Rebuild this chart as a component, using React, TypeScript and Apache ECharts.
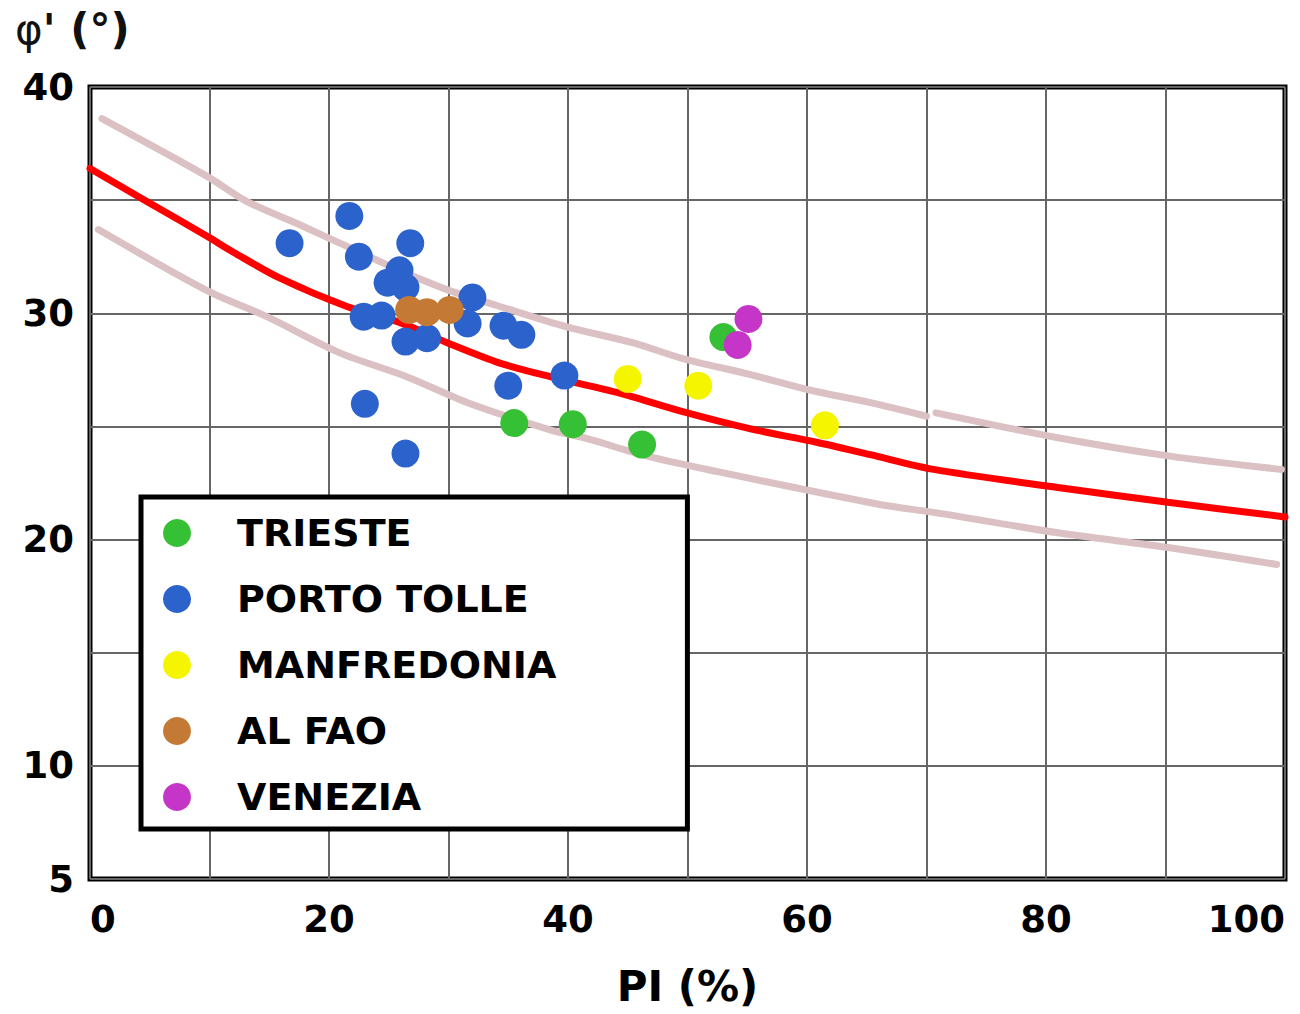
import React, { useEffect, useRef } from 'react';
import * as echarts from 'echarts';

// ---- data ----
const siteNames = ['TRIESTE', 'PORTO TOLLE', 'MANFREDONIA', 'AL FAO', 'VENEZIA'];
const siteColors = ['#35c035', '#2b62cc', '#f5f500', '#c47a35', '#c435c8'];

const triestePoints = [
  [35.5, 25.15], [40.4, 25.1], [46.2, 24.2], [53.0, 28.95],
];
const portoTollePoints = [
  [21.7, 34.3], [16.7, 33.1], [26.8, 33.1], [22.5, 32.5], [25.9, 31.9],
  [24.9, 31.35], [26.4, 31.15], [32.0, 30.7], [22.9, 29.85], [24.4, 29.9],
  [31.6, 29.55], [34.6, 29.45], [36.1, 29.05], [26.4, 28.75], [28.2, 28.9],
  [35.0, 26.8], [23.0, 26.0], [26.4, 23.8], [39.7, 27.25],
];
const manfredoniaPoints = [
  [45.0, 27.1], [50.9, 26.8], [61.5, 25.05],
];
const alFaoPoints = [
  [26.7, 30.15], [28.2, 30.05], [30.1, 30.15],
];
const veneziaPoints = [
  [55.1, 29.75], [54.2, 28.6],
];

const fitCurve = [
  [0, 36.4], [4.9, 34.9], [9.8, 33.4], [12.0, 32.7], [15.9, 31.55],
  [21.5, 30.3], [25.9, 29.6], [29.9, 28.7], [34.3, 27.8],
  [38.5, 27.2], [44.1, 26.5], [49.6, 25.65], [55.2, 24.9], [60.8, 24.3],
  [65.3, 23.75], [70.6, 23.1], [81.0, 22.3], [90.2, 21.65], [100, 21.0],
];
const upperBoundLeft = [
  [1.0, 38.6], [9.8, 36.05], [13.1, 34.95], [17.6, 33.9], [20.9, 33.1],
  [25.9, 31.9], [30.1, 31.0], [34.3, 30.3], [39.9, 29.4], [45.4, 28.7],
  [49.6, 28.0], [55.2, 27.3], [60.3, 26.6], [65.3, 26.05], [70.0, 25.45],
];
const upperBoundRight = [
  [70.8, 25.6], [81.0, 24.5], [90.2, 23.7], [99.7, 23.1],
];
const lowerBound = [
  [0.7, 33.7], [9.8, 31.0], [14.8, 29.85], [20.9, 28.25], [26.5, 27.2],
  [31.6, 26.05], [38.5, 24.85], [41.3, 24.5], [46.9, 23.65], [52.5, 23.0],
  [66.1, 21.55], [70.6, 21.2], [81.0, 20.3], [90.2, 19.65], [99.3, 18.9],
];

const yLabelValues = [5, 10, 20, 30, 40];
const xLabelValues = [0, 20, 40, 60, 80, 100];

const sitePoints = [triestePoints, portoTollePoints, manfredoniaPoints, alFaoPoints, veneziaPoints];

const FONT = 'DejaVu Sans';

function buildOption() {
  const scatterSeries = siteNames.map((name, i) => ({
    name,
    type: 'scatter',
    data: sitePoints[i],
    symbol: 'circle',
    symbolSize: 28,
    itemStyle: { color: siteColors[i], opacity: 1 },
    z: 5 + i,
  }));
  const lineStyleBase = { width: 7, cap: 'round' as const };
  return {
    animation: false,
    backgroundColor: '#ffffff',
    title: {
      text: '{a|φ}{b|\' (°)}',
      left: 10,
      top: 3,
      textStyle: {
        rich: {
          a: { fontFamily: FONT, fontSize: 42, fontWeight: 'normal', color: '#111' },
          b: { fontFamily: FONT, fontSize: 42, fontWeight: 'bold', color: '#111' },
        },
      },
    },
    legend: {
      data: siteNames,
      orient: 'vertical',
      left: 141,
      top: 497,
      icon: 'circle',
      itemWidth: 28,
      itemHeight: 28,
      itemGap: 28,
      padding: [17, 131, 13, 22],
      backgroundColor: '#ffffff',
      borderColor: '#000000',
      borderWidth: 5,
      selectedMode: false,
      textStyle: {
        fontFamily: FONT,
        fontSize: 38,
        fontWeight: 'bold',
        color: '#000',
        padding: [0, 0, 0, 41],
      },
      z: 20,
    },
    grid: {
      left: 90,
      right: 15,
      top: 87,
      bottom: 135,
      show: true,
      borderColor: '#000',
      borderWidth: 5,
      backgroundColor: 'transparent',
    },
    xAxis: {
      type: 'value',
      min: 0,
      max: 100,
      interval: 10,
      name: 'PI (%)',
      nameLocation: 'middle',
      nameGap: 86,
      nameTextStyle: { fontFamily: FONT, fontSize: 42, fontWeight: 'bold', color: '#000' },
      axisLine: { show: false },
      axisTick: { show: false },
      axisLabel: {
        margin: 22,
        fontFamily: FONT,
        fontSize: 37,
        fontWeight: 'bold',
        color: '#000',
        alignMinLabel: 'left',
        alignMaxLabel: 'right',
        formatter: (v: number) => (xLabelValues.indexOf(v) >= 0 ? String(v) : ''),
      },
      splitLine: { show: true, lineStyle: { color: '#666666', width: 2 } },
    },
    yAxis: {
      type: 'value',
      min: 5,
      max: 40,
      interval: 5,
      axisLine: { show: false },
      axisTick: { show: false },
      axisLabel: {
        margin: 16,
        fontFamily: FONT,
        fontSize: 37,
        fontWeight: 'bold',
        color: '#000',
        formatter: (v: number) => (yLabelValues.indexOf(v) >= 0 ? String(v) : ''),
      },
      splitLine: { show: true, lineStyle: { color: '#666666', width: 2 } },
    },
    series: [
      {
        name: 'upper',
        type: 'line',
        data: [...upperBoundLeft, ['-', '-'], ...upperBoundRight],
        showSymbol: false,
        symbol: 'none',
        smooth: 0.3,
        connectNulls: false,
        lineStyle: { ...lineStyleBase, color: '#dcc1c4' },
        z: 2,
        silent: true,
      },
      {
        name: 'lower',
        type: 'line',
        data: lowerBound,
        showSymbol: false,
        symbol: 'none',
        smooth: 0.3,
        lineStyle: { ...lineStyleBase, color: '#dcc1c4' },
        z: 2,
        silent: true,
      },
      {
        name: 'fit',
        type: 'line',
        data: fitCurve,
        showSymbol: false,
        symbol: 'none',
        smooth: 0.3,
        lineStyle: { ...lineStyleBase, color: '#ff0000' },
        z: 3,
        silent: true,
      },
      ...scatterSeries,
    ],
  };
}

export default function App() {
  const ref = useRef<HTMLDivElement>(null);
  useEffect(() => {
    if (!ref.current) return;
    const chart = echarts.init(ref.current, null, { renderer: 'svg' });
    chart.setOption(buildOption() as any);
    return () => chart.dispose();
  }, []);
  return (
    <div
      ref={ref}
      style={{ position: 'fixed', left: 0, top: 0, width: 1300, height: 1014, background: '#fff' }}
    />
  );
}
